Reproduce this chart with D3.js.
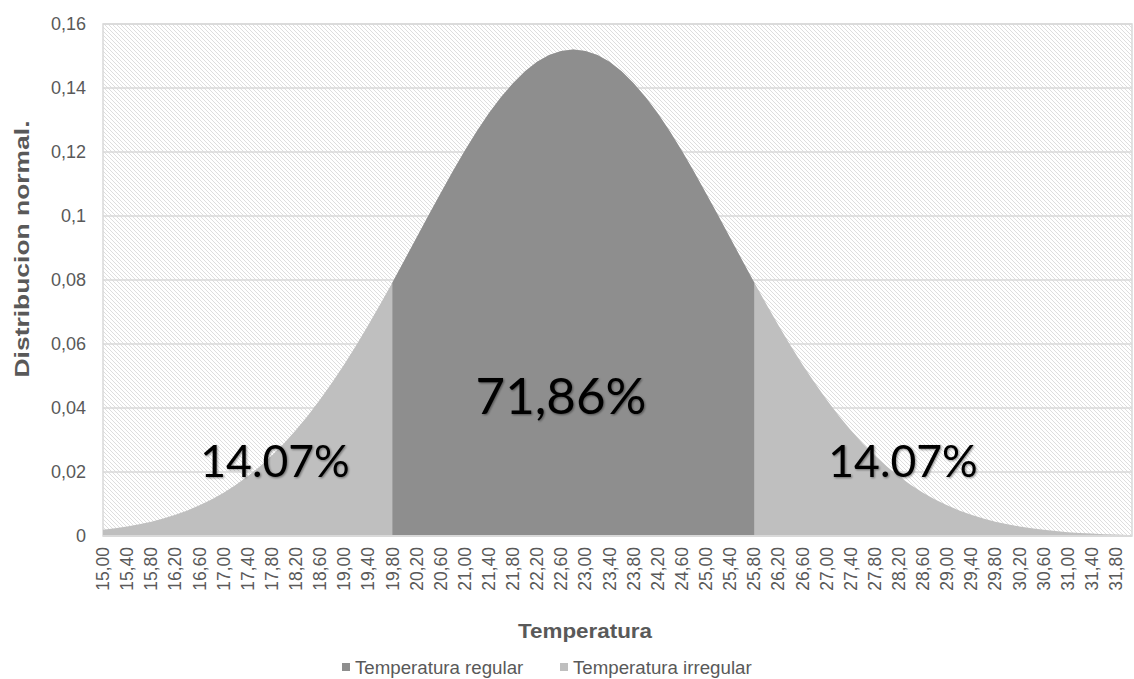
<!DOCTYPE html>
<html><head><meta charset="utf-8">
<script src="https://cdn.jsdelivr.net/npm/d3@7"></script>
<style>body{margin:0;background:#fff} svg{display:block}</style>
</head><body>
<svg id="c" width="1134" height="679"></svg>
<script>
// ---- data ----
const temperatures = ["15,00","15,20","15,40","15,60","15,80","16,00","16,20","16,40","16,60","16,80",
"17,00","17,20","17,40","17,60","17,80","18,00","18,20","18,40","18,60","18,80",
"19,00","19,20","19,40","19,60","19,80","20,00","20,20","20,40","20,60","20,80",
"21,00","21,20","21,40","21,60","21,80","22,00","22,20","22,40","22,60","22,80",
"23,00","23,20","23,40","23,60","23,80","24,00","24,20","24,40","24,60","24,80",
"25,00","25,20","25,40","25,60","25,80","26,00","26,20","26,40","26,60","26,80",
"27,00","27,20","27,40","27,60","27,80","28,00","28,20","28,40","28,60","28,80",
"29,00","29,20","29,40","29,60","29,80","30,00","30,20","30,40","30,60","30,80",
"31,00","31,20","31,40","31,60","31,80","32,00"];
const density = [0.00192,0.00240,0.00297,0.00367,0.00449,0.00548,0.00664,0.00800,0.00958,0.01142,
0.01353,0.01593,0.01865,0.02172,0.02514,0.02893,0.03311,0.03768,0.04262,0.04795,
0.05362,0.05963,0.06593,0.07248,0.07922,0.08620,0.09320,0.10020,0.10710,0.11390,
0.12040,0.12650,0.13210,0.13710,0.14150,0.14520,0.14820,0.15030,0.15160,0.15200,
0.15160,0.15030,0.14820,0.14520,0.14150,0.13710,0.13210,0.12650,0.12040,0.11390,
0.10710,0.10020,0.09320,0.08620,0.07922,0.07248,0.06593,0.05963,0.05362,0.04795,
0.04262,0.03768,0.03311,0.02893,0.02514,0.02172,0.01865,0.01593,0.01353,0.01142,
0.00958,0.00800,0.00664,0.00548,0.00449,0.00367,0.00297,0.00240,0.00192,0.00153,
0.00121,0.00096,0.00075,0.00058,0.00045,0.00035];
const regularStart = "19,80", regularEnd = "25,80";
const yTickValues = [0,0.02,0.04,0.06,0.08,0.10,0.12,0.14,0.16];
const yTickLabels = ["0","0,02","0,04","0,06","0,08","0,1","0,12","0,14","0,16"];
const seriesNames = ["Temperatura regular","Temperatura irregular"];
const areaLabels = ["14.07%","71,86%","14.07%"];
const xTitle = "Temperatura", yTitle = "Distribucion normal.";

// ---- drawing ----
const svg = d3.select("#c");
const P = {left:103, right:1128, top:24, bottom:536};
const x = d3.scalePoint().domain(temperatures).range([P.left, P.right]);
const y = d3.scaleLinear().domain([0,0.16]).range([P.bottom, P.top]);
const txt = "#595959", font = "'Liberation Sans', Arial, sans-serif";
const cDark = "#8e8e8e", cLight = "#bfbfbf";

const defs = svg.append("defs");
const pat = defs.append("pattern").attr("id","hatch").attr("patternUnits","userSpaceOnUse")
  .attr("width",4).attr("height",4);
pat.append("rect").attr("width",4).attr("height",4).attr("fill","#fff");
pat.append("path").attr("d","M-1,-1L5,5M-1,3L1,5M3,-1L5,1").attr("stroke","#dadada").attr("stroke-width",0.9);
const sh = defs.append("filter").attr("id","shadow").attr("x","-10%").attr("y","-20%").attr("width","120%").attr("height","140%");
sh.append("feGaussianBlur").attr("in","SourceAlpha").attr("stdDeviation",1.2).attr("result","b");
sh.append("feOffset").attr("in","b").attr("dx",1).attr("dy",1).attr("result","o");
sh.append("feComponentTransfer").attr("in","o").attr("result","o2").append("feFuncA").attr("type","linear").attr("slope",0.45);
const mg = sh.append("feMerge"); mg.append("feMergeNode").attr("in","o2"); mg.append("feMergeNode").attr("in","SourceGraphic");

svg.append("rect").attr("x",P.left).attr("y",P.top).attr("width",P.right-P.left+4).attr("height",P.bottom-P.top)
  .attr("fill","url(#hatch)").attr("stroke","#d9d9d9").attr("stroke-width",1.5);

svg.append("g").selectAll("line").data(yTickValues.slice(1)).join("line")
  .attr("x1",P.left).attr("x2",P.right+4).attr("y1",d=>y(d)).attr("y2",d=>y(d))
  .attr("stroke","#d9d9d9").attr("stroke-width",1.5);

const rows = temperatures.map((t,i)=>({t, v:density[i], i}));
const i0 = temperatures.indexOf(regularStart), i1 = temperatures.indexOf(regularEnd);
const area = d3.area().x(d=>x(d.t)).y0(y(0)).y1(d=>y(d.v));
svg.append("path").datum(rows).attr("d",area).attr("fill",cLight);
svg.append("path").datum(rows.filter(d=>d.i>=i0 && d.i<=i1)).attr("d",area).attr("fill",cDark);

svg.append("line").attr("x1",P.left).attr("x2",P.right+4).attr("y1",P.bottom).attr("y2",P.bottom)
  .attr("stroke","#d9d9d9").attr("stroke-width",2);

// y axis labels
svg.append("g").selectAll("text").data(yTickValues).join("text")
  .attr("x",86).attr("y",d=>y(d)).attr("dy","0.35em").attr("text-anchor","end")
  .attr("font-family",font).attr("font-size",18).attr("fill",txt)
  .text((d,i)=>yTickLabels[i]);

// x axis labels (every second category)
svg.append("g").selectAll("text").data(temperatures.filter((d,i)=>i%2===0)).join("text")
  .attr("transform",d=>`translate(${x(d)},547) rotate(-90)`).attr("dy","0.35em").attr("text-anchor","end")
  .attr("font-family",font).attr("font-size",17.5).attr("fill",txt).text(d=>d);

// titles
svg.append("text").attr("x",585).attr("y",631).attr("dy","0.35em").attr("text-anchor","middle")
  .attr("font-family",font).attr("font-weight","bold").attr("font-size",20).attr("fill",txt)
  .attr("textLength",134).attr("lengthAdjust","spacingAndGlyphs").text(xTitle);
svg.append("text").attr("transform","translate(22,249) rotate(-90)").attr("dy","0.35em").attr("text-anchor","middle")
  .attr("font-family",font).attr("font-weight","bold").attr("font-size",21).attr("fill",txt)
  .attr("textLength",257).attr("lengthAdjust","spacingAndGlyphs").text(yTitle);

// legend
const leg = [{n:seriesNames[0],c:cDark,x:342},{n:seriesNames[1],c:cLight,x:560}];
const lg = svg.append("g").selectAll("g").data(leg).join("g").attr("transform",d=>`translate(${d.x},667)`);
lg.append("rect").attr("x",0).attr("y",-4).attr("width",8).attr("height",8).attr("fill",d=>d.c);
lg.append("text").attr("x",13).attr("dy","0.35em").attr("font-family",font).attr("font-size",18.7).attr("fill",txt).text(d=>d.n);

// area percentages
const pct = [{t:areaLabels[0],x:275,y:461,s:44.5},{t:areaLabels[1],x:561,y:396,s:51},{t:areaLabels[2],x:903,y:461,s:44.5}];
svg.append("g").selectAll("text").data(pct).join("text")
  .attr("x",d=>d.x).attr("y",d=>d.y).attr("dy","0.36em").attr("text-anchor","middle")
  .attr("font-family","Lato, 'Open Sans', sans-serif").attr("font-size",d=>d.s).attr("fill","#000")
  .attr("filter","url(#shadow)").text(d=>d.t);
</script>
</body></html>
